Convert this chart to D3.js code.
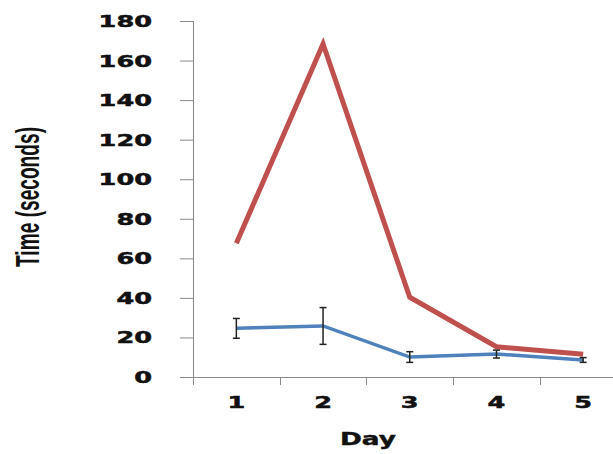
<!DOCTYPE html>
<html><head><meta charset="utf-8">
<script src="https://cdn.jsdelivr.net/npm/d3@7"></script>
<style>html,body{margin:0;padding:0;background:#fff;overflow:hidden}</style>
</head><body>
<svg id="chart" width="613" height="454"></svg>
<script>
const days = ["1","2","3","4","5"];
const redValues = [67.6, 168.4, 40.3, 15.3, 11.5];
const blueValues = [24.6, 25.8, 10.1, 11.6, 8.6];
const blueErrors = [5.0, 9.3, 2.7, 2.0, 1.2];
const yTicks = [0,20,40,60,80,100,120,140,160,180];
const xTitle = "Day";
const yTitle = "Time (seconds)";

const svg = d3.select("#chart");
const SX = 1.55;
const x = d3.scaleBand().domain(days).range([193, 626.5]).paddingInner(0).paddingOuter(0);
const y = d3.scaleLinear().domain([0,180]).range([377, 21]);
const cx = d => x(d) + x.bandwidth()/2;
const axisColor = "#8a8a8a";

// Y axis
const ya = svg.append("g").attr("transform","translate(193,0)")
  .call(d3.axisLeft(y).tickValues(yTicks).tickSize(13).tickFormat(""));
ya.select(".domain").attr("stroke",axisColor).attr("d","M0.5,21V377.5");
ya.selectAll(".tick line").attr("stroke",axisColor);
// Y tick labels (wide bold)
yTicks.forEach(t=>{
  svg.append("text")
    .attr("transform",`translate(152,${y(t)+6}) scale(${SX},1)`)
    .attr("text-anchor","end")
    .attr("font-family","DejaVu Sans, Verdana, sans-serif")
    .attr("font-weight","bold").attr("font-size",16.5).attr("fill","#111")
    .attr("stroke","#111").attr("stroke-width",0.5)
    .text(t);
});

// X axis
svg.append("line").attr("x1",193).attr("x2",613).attr("y1",377.5).attr("y2",377.5)
  .attr("stroke",axisColor);
const bounds = days.map(d=>x(d)).concat([x(days[days.length-1])+x.bandwidth()]);
svg.selectAll(".xt").data(bounds).join("line").attr("class","xt")
  .attr("x1",d=>Math.round(d)+0.5).attr("x2",d=>Math.round(d)+0.5)
  .attr("y1",377).attr("y2",385).attr("stroke",axisColor);
days.forEach(d=>{
  svg.append("text")
    .attr("transform",`translate(${cx(d)},408) scale(${SX},1)`)
    .attr("text-anchor","middle")
    .attr("font-family","DejaVu Sans, Verdana, sans-serif")
    .attr("font-weight","bold").attr("font-size",16.5).attr("fill","#111")
    .attr("stroke","#111").attr("stroke-width",0.5)
    .text(d);
});

// Titles
svg.append("text")
  .attr("transform",`translate(368,445) scale(${SX},1)`)
  .attr("text-anchor","middle")
  .attr("font-family","DejaVu Sans, Verdana, sans-serif")
  .attr("font-weight","bold").attr("font-size",17).attr("fill","#111")
  .attr("stroke","#111").attr("stroke-width",0.4)
  .text(xTitle);
svg.append("text")
  .attr("transform","translate(39,197) scale(1.5,1) rotate(-90)")
  .attr("text-anchor","middle")
  .attr("font-family","Liberation Sans Narrow, Arial Narrow, sans-serif")
  .attr("font-weight","bold").attr("font-size",22).attr("fill","#111")
  .attr("textLength",140).attr("lengthAdjust","spacingAndGlyphs")
  .text(yTitle);

// Lines
const line = d3.line().x((v,i)=>cx(days[i])).y(v=>y(v));
svg.append("path").datum(redValues).attr("d",line)
  .attr("fill","none").attr("stroke","#c0504d").attr("stroke-width",5)
  .attr("stroke-linejoin","miter");
svg.append("path").datum(blueValues).attr("d",line)
  .attr("fill","none").attr("stroke","#4f81bd").attr("stroke-width",3.5);

// Error bars
const eb = svg.append("g").attr("stroke","#222").attr("stroke-width",1.5);
blueValues.forEach((v,i)=>{
  const px = cx(days[i]);
  const y1 = y(v+blueErrors[i]), y0 = y(v-blueErrors[i]);
  eb.append("line").attr("x1",px).attr("x2",px).attr("y1",y1).attr("y2",y0);
  eb.append("line").attr("x1",px-3.5).attr("x2",px+3.5).attr("y1",y1).attr("y2",y1);
  eb.append("line").attr("x1",px-3.5).attr("x2",px+3.5).attr("y1",y0).attr("y2",y0);
});
</script>
</body></html>
